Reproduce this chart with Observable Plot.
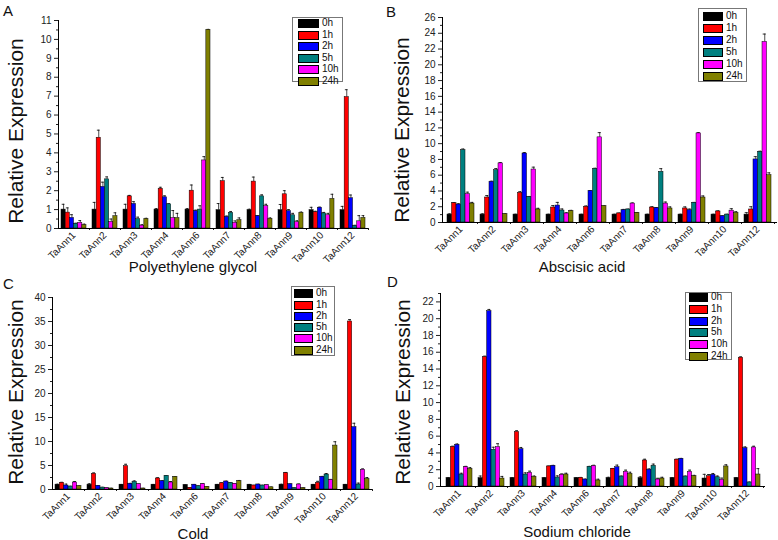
<!DOCTYPE html>
<html><head><meta charset="utf-8">
<script src="https://cdn.jsdelivr.net/npm/d3@7"></script>
<script src="https://cdn.jsdelivr.net/npm/@observablehq/plot@0.6"></script>
<style>
body{margin:0;background:#fff;font-family:"Liberation Sans",Arial,sans-serif;}
#root{position:relative;width:778px;height:540px;overflow:hidden;background:#fff;}
.panel{position:absolute;}
.t{position:absolute;white-space:nowrap;color:#111;line-height:1;}
.ylab{font-size:21px;transform:translate(-50%,-50%) rotate(-90deg);}
.xlab{font-size:15px;transform:translate(-50%,-50%);}
.letter{font-size:15px;}
.legend{position:absolute;border:1px solid #777;background:#fff;box-sizing:border-box;}
.legend .sw{position:absolute;border:1px solid #000;box-sizing:border-box;}
.legend .lt{position:absolute;font-size:10px;line-height:1;color:#111;}
</style></head><body><div id="root"></div><script>
const genes = ["TaAnn1","TaAnn2","TaAnn3","TaAnn4","TaAnn6","TaAnn7","TaAnn8","TaAnn9","TaAnn10","TaAnn12"];
const times = ["0h","1h","2h","5h","10h","24h"];
const colors = ["#000000","#ff0000","#0000ff","#008080","#ff00ff","#808000"];

// Polyethylene glycol: per gene, values at 0h,1h,2h,5h,10h,24h
const pegValues = [
  [1.0,0.84,0.56,0.25,0.30,0.18],
  [1.0,4.8,2.2,2.6,0.35,0.65],
  [1.0,1.7,1.3,0.5,0.15,0.5],
  [1.0,2.1,1.65,1.28,0.55,0.55],
  [1.0,2.0,0.92,1.0,3.6,10.5],
  [0.97,2.5,0.61,0.83,0.3,0.44],
  [0.97,2.48,0.65,1.7,1.18,0.51],
  [0.97,1.81,0.92,0.7,0.33,0.83],
  [0.97,0.86,1.1,0.8,0.7,1.56],
  [0.97,6.95,1.6,0.14,0.38,0.56]
];
const pegErrors = [
  [0.28,0.25,0.17,0.03,0.12,0.05],
  [0.38,0.4,0.25,0.13,0.15,0.18],
  [0.28,0.05,0.12,0.1,0.05,0.04],
  [0.05,0.08,0.08,0.03,0.4,0.25],
  [0.05,0.3,0.05,0.2,0.2,0.03],
  [0.35,0.2,0.05,0.07,0.1,0.12],
  [0.05,0.24,0.03,0.08,0.1,0.05],
  [0.3,0.19,0.08,0.1,0.08,0.04],
  [0.15,0.05,0.03,0.05,0.1,0.25],
  [0.2,0.39,0.17,0.03,0.3,0.12]
];
// Abscisic acid
const abaValues = [
  [1.0,2.45,2.28,9.17,3.6,2.4],
  [1.0,3.17,5.16,6.64,7.5,1.05],
  [1.0,3.76,8.75,3.25,6.72,1.65],
  [1.0,1.9,2.15,1.52,1.14,1.44],
  [1.0,2.0,4.0,6.8,10.8,2.07],
  [1.0,1.15,1.56,1.65,2.4,1.22],
  [1.0,1.9,1.82,6.43,2.4,1.78],
  [1.0,1.78,1.56,2.5,11.3,3.17],
  [1.0,1.4,0.8,1.0,1.5,1.22],
  [1.0,1.65,8.0,8.96,22.9,6.0]
];
const abaErrors = [
  [0.1,0.08,0.1,0.15,0.25,0.15],
  [0.1,0.25,0.08,0.2,0.1,0.05],
  [0.05,0.15,0.12,0.05,0.3,0.15],
  [0.05,0.25,0.4,0.2,0.1,0.1],
  [0.05,0.1,0.05,0.08,0.6,0.05],
  [0.05,0.05,0.1,0.05,0.08,0.05],
  [0.05,0.1,0.08,0.4,0.2,0.2],
  [0.05,0.2,0.15,0.05,0.1,0.2],
  [0.05,0.08,0.05,0.05,0.25,0.15],
  [0.25,0.35,0.35,0.08,1.0,0.3]
];
// Cold
const coldValues = [
  [1.0,1.4,0.83,0.62,1.46,0.7],
  [1.0,3.26,0.76,0.4,0.28,0.2],
  [1.0,4.86,1.18,1.6,1.1,0.2],
  [1.0,2.3,1.73,2.84,1.46,2.63],
  [0.93,0.35,1.0,0.7,1.1,0.55],
  [1.0,1.3,1.66,1.4,1.18,1.73],
  [1.0,0.83,1.04,0.83,0.9,0.45],
  [1.0,3.4,1.1,0.28,1.04,0.28],
  [1.0,1.4,2.63,3.12,2.0,9.15],
  [1.0,35.0,13.0,1.04,4.1,2.2]
];
const coldErrors = [
  [0.1,0.1,0.3,0.05,0.2,0.05],
  [0.2,0.2,0.05,0.05,0.05,0.05],
  [0.05,0.4,0.1,0.2,0.05,0.05],
  [0.05,0.15,0.1,0.05,0.2,0.05],
  [0.05,0.05,0.05,0.05,0.1,0.05],
  [0.05,0.1,0.08,0.05,0.05,0.15],
  [0.05,0.05,0.05,0.05,0.05,0.05],
  [0.1,0.15,0.05,0.05,0.1,0.05],
  [0.05,0.3,0.1,0.2,0.1,0.8],
  [0.05,0.4,0.8,0.3,0.2,0.3]
];
// Sodium chloride
const naclValues = [
  [1.0,4.7,4.97,1.43,2.3,2.1],
  [1.0,15.43,20.9,4.38,4.7,0.95],
  [1.0,6.5,4.45,1.43,1.63,1.15],
  [1.0,2.39,2.47,1.07,1.4,1.43],
  [1.0,1.03,0.83,2.35,2.43,0.72],
  [1.0,2.1,2.3,1.19,1.75,1.5],
  [1.0,3.1,2.0,2.47,0.83,0.95],
  [1.0,3.2,3.3,1.19,1.75,1.23],
  [0.95,1.23,1.4,1.1,0.8,2.39],
  [1.0,15.35,4.57,0.48,4.65,1.43]
];
const naclErrors = [
  [0.05,0.1,0.1,0.15,0.1,0.15],
  [0.25,0.1,0.2,0.3,0.4,0.25],
  [0.05,0.15,0.2,0.2,0.2,0.1],
  [0.05,0.05,0.05,0.2,0.1,0.15],
  [0.05,0.05,0.05,0.05,0.1,0.15],
  [0.1,0.05,0.25,0.05,0.2,0.2],
  [0.15,0.15,0.1,0.2,0.15,0.15],
  [0.05,0.05,0.05,0.05,0.2,0.1],
  [0.5,0.2,0.15,0.15,0.2,0.2],
  [0.05,0.1,0.15,0.05,0.15,0.7]
];

const yTicksA = d3.range(0, 12, 1);
const yTicksB = d3.range(0, 27, 2);
const yTicksC = d3.range(0, 41, 5);
const yTicksD = d3.range(0, 23, 2);

const panels = [
  {letter:"A", xlabel:"Polyethylene glycol", values:pegValues, errors:pegErrors, ticks:yTicksA, minorStep:0.5, domain:[0,11],
   left:0, top:0, mL:58, mR:21, mT:20, mB:42, pIn:0.18, pOut:0.05,
   letterPos:[3,3], ylabPos:[15,131], xlabPos:[193,266],
   leg:{x:292,y:17,w:51,h:65,row:11.5,first:22.7,sx:5,sw:21,tx:29}},
  {letter:"B", xlabel:"Abscisic acid", values:abaValues, errors:abaErrors, ticks:yTicksB, minorStep:1, domain:[0,26],
   left:389, top:0, mL:53, mR:1, mT:17, mB:48, pIn:0.17, pOut:0.06,
   letterPos:[386,4], ylabPos:[401,130], xlabPos:[582,266],
   leg:{x:698,y:8,w:49,h:74,row:12,first:15,sx:4,sw:20,tx:27}},
  {letter:"C", xlabel:"Cold", values:coldValues, errors:coldErrors, ticks:yTicksC, minorStep:2.5, domain:[0,40],
   left:0, top:270, mL:52, mR:17, mT:27, mB:51, pIn:0.19, pOut:0.08,
   letterPos:[3,276], ylabPos:[15,392], xlabPos:[193,533],
   leg:{x:291,y:286,w:44,h:70,row:11.3,first:292.7,sx:2,sw:19,tx:24}},
  {letter:"D", xlabel:"Sodium chloride", values:naclValues, errors:naclErrors, ticks:yTicksD, minorStep:1, domain:[0,23],
   left:389, top:270, mL:51, mR:13, mT:23, mB:54, pIn:0.19, pOut:0.15,
   letterPos:[387,274], ylabPos:[402,392], xlabPos:[577,531],
   leg:{x:685,y:292,w:47,h:68,row:11.7,first:296.7,sx:3,sw:19,tx:25}}
];

const root = document.getElementById("root");
const W = 389, H = 270;

function addText(cls, txt, x, y) {
  const d = document.createElement("div");
  d.className = "t " + cls;
  d.textContent = txt;
  d.style.left = x + "px";
  d.style.top = y + "px";
  root.appendChild(d);
}

for (const p of panels) {
  const rows = [];
  genes.forEach((g, gi) => times.forEach((t, ti) => rows.push({gene:g, time:t, ti, value:p.values[gi][ti], err:p.errors[gi][ti]})));
  const base = {
    width: W, height: H, marginLeft: p.mL, marginRight: p.mR, marginTop: p.mT, marginBottom: p.mB,
    x: {domain: genes, paddingInner: p.pIn, paddingOuter: p.pOut, label: null},
    y: {domain: p.domain, label: null},
    style: {fontFamily: "'Liberation Sans', Arial, sans-serif", fontSize: "10px", color: "#222", background: "transparent", overflow: "visible"}
  };
  const probe = Plot.plot({...base, marks: [Plot.barY(rows, {x: "gene", y: "value"})]});
  const bw = probe.scale("x").bandwidth;
  const step = probe.scale("x").step || bw / (1 - p.pIn);
  const w = bw / 6;
  const minor = d3.range(0, p.domain[1] + 1e-9, p.minorStep).filter(v => !p.ticks.includes(v));
  const marks = [];
  times.forEach((t, i) => {
    const sub = rows.filter(r => r.ti === i);
    marks.push(Plot.ruleX(sub, {x: "gene", y1: "value", y2: d => d.value + d.err, dx: (i + 0.5) * w - bw / 2, stroke: "#000", strokeWidth: 0.7}));
    marks.push(Plot.tickY(sub, {x: "gene", y: d => d.value + d.err, insetLeft: i * w + 0.7, insetRight: (5 - i) * w + 0.7, stroke: "#000", strokeWidth: 0.8}));
    marks.push(Plot.barY(sub, {x: "gene", y: "value", fill: colors[i], stroke: "#000", strokeWidth: 0.5, insetLeft: i * w, insetRight: (5 - i) * w}));
  });
  marks.push(Plot.axisY({ticks: p.ticks, tickSize: 4, tickPadding: 3, fontSize: 10, label: null}));
  marks.push(Plot.axisY({ticks: minor, tickSize: 2, tickFormat: () => "", label: null}));
  marks.push(Plot.axisX({tickRotate: -45, tickSize: 0, tickPadding: 5, fontSize: 10, label: null}));
  // small ticks between gene groups on the bottom axis
  marks.push(Plot.axisX({tickSize: 2, tickFormat: () => "", dx: step / 2, label: null}));
  marks.push(Plot.ruleY([0], {stroke: "#000", strokeWidth: 1}));
  marks.push(Plot.frame({anchor: "left", stroke: "#000", strokeWidth: 1}));
  const svg = Plot.plot({...base, marks});
  svg.classList.add("panel");
  svg.style.left = p.left + "px";
  svg.style.top = p.top + "px";
  root.appendChild(svg);

  addText("letter", p.letter, p.letterPos[0], p.letterPos[1]);
  addText("ylab", "Relative Expression", p.ylabPos[0], p.ylabPos[1]);
  addText("xlab", p.xlabel, p.xlabPos[0], p.xlabPos[1]);

  const L = p.leg;
  const box = document.createElement("div");
  box.className = "legend";
  box.style.left = L.x + "px"; box.style.top = L.y + "px";
  box.style.width = L.w + "px"; box.style.height = L.h + "px";
  times.forEach((t, i) => {
    const cy = L.first - L.y + i * L.row;
    const sw = document.createElement("div");
    sw.className = "sw";
    sw.style.left = L.sx + "px"; sw.style.top = (cy - 4.5) + "px";
    sw.style.width = L.sw + "px"; sw.style.height = "9px";
    sw.style.background = colors[i];
    box.appendChild(sw);
    const lt = document.createElement("div");
    lt.className = "lt";
    lt.textContent = t;
    lt.style.left = L.tx + "px"; lt.style.top = (cy - 5.5) + "px";
    box.appendChild(lt);
  });
  root.appendChild(box);
}
</script></body></html>
